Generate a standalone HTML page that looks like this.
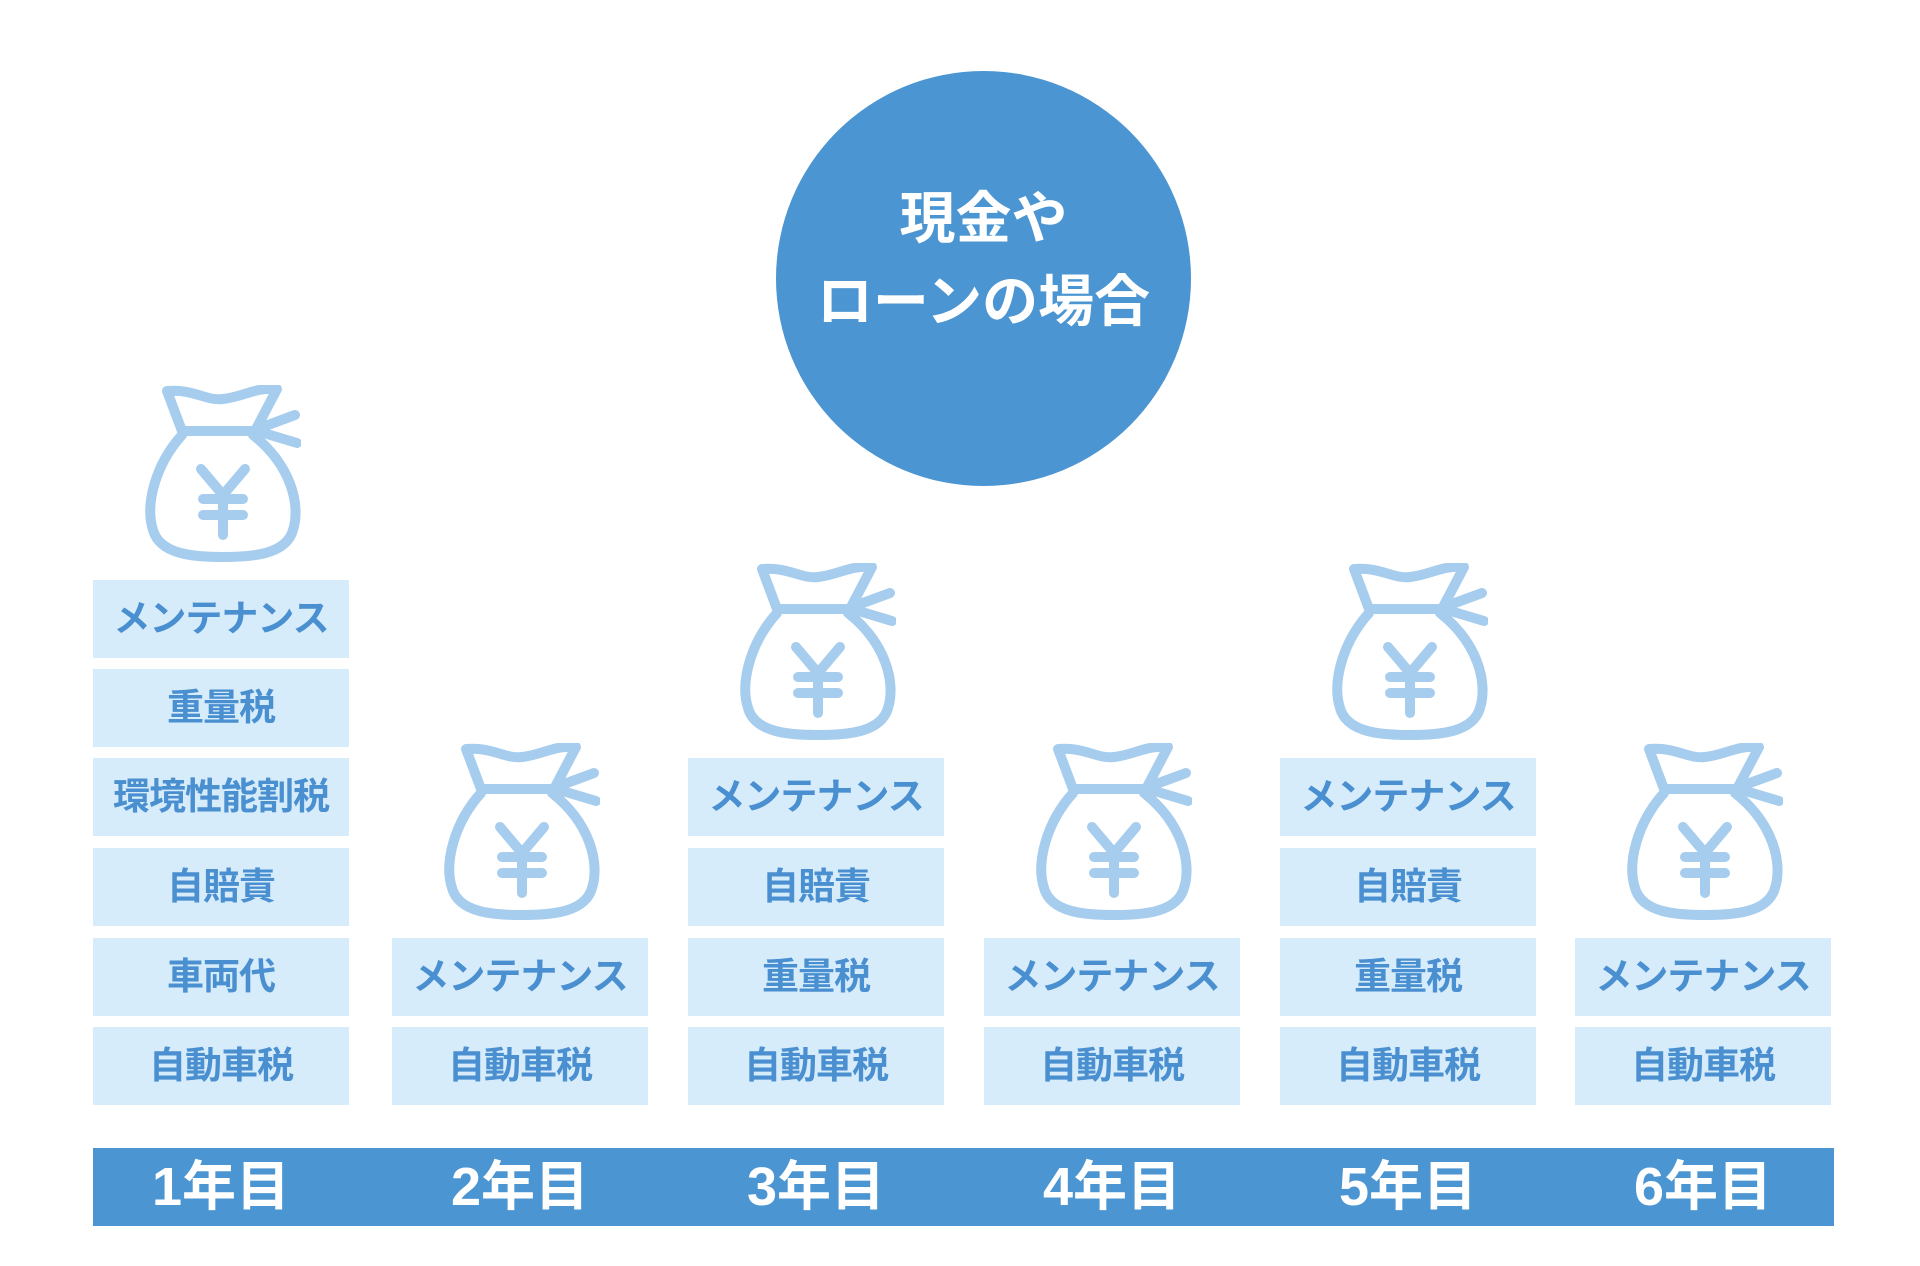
<!DOCTYPE html>
<html><head><meta charset="utf-8"><style>
body{margin:0;width:1920px;height:1266px;background:#fff;position:relative;overflow:hidden;font-family:"Liberation Sans","Noto Sans CJK JP",sans-serif}
.c{position:absolute;left:776px;top:71px;width:415px;height:415px;border-radius:50%;background:#4a95d2;color:#fff;font-weight:bold;font-size:56px;text-align:center}
.c div{position:absolute;left:0;right:0;line-height:60px}
.b{position:absolute;width:256px;height:78px;background:#d6ecfb;color:#4a8fd0;font-weight:bold;font-size:37px;line-height:78px;text-align:center;letter-spacing:-1px}
.bar{position:absolute;left:93px;top:1148px;width:1741px;height:78px;background:#4a95d2}
.y{position:absolute;top:1148px;width:256px;line-height:78px;color:#fff;font-weight:bold;font-size:54px;text-align:center}
svg{position:absolute}
</style></head><body>
<div class="c"><div style="top:118px">現金や</div><div style="top:201px">ローンの場合</div></div>
<svg width="0" height="0"><defs><g id="bag" fill="none" stroke="#a7cdee" stroke-width="10" stroke-linecap="round" stroke-linejoin="round">
<path d="M22,6 C50,4 60,16 78,14 C98,12 110,2 132,4 L110,46 L37,46 Z"/>
<path d="M112,44 L150,30 M112,46 L152,58"/>
<path d="M37,50 C10,80 0,120 8,145 C15,170 50,172 78,172 C106,172 141,170 148,145 C156,120 146,80 108,50"/>
<path d="M56,84 L78,110 L100,84 M78,110 L78,150 M58,114 L98,114 M58,130 L98,130"/>
</g></defs></svg>
<svg style="left:145px;top:385px" width="156" height="177"><use href="#bag"/></svg>
<div class="b" style="left:93px;top:580px">メンテナンス</div>
<div class="b" style="left:93px;top:669px">重量税</div>
<div class="b" style="left:93px;top:758px">環境性能割税</div>
<div class="b" style="left:93px;top:848px">自賠責</div>
<div class="b" style="left:93px;top:938px">車両代</div>
<div class="b" style="left:93px;top:1027px">自動車税</div>
<svg style="left:444px;top:743px" width="156" height="177"><use href="#bag"/></svg>
<div class="b" style="left:392px;top:938px">メンテナンス</div>
<div class="b" style="left:392px;top:1027px">自動車税</div>
<svg style="left:740px;top:563px" width="156" height="177"><use href="#bag"/></svg>
<div class="b" style="left:688px;top:758px">メンテナンス</div>
<div class="b" style="left:688px;top:848px">自賠責</div>
<div class="b" style="left:688px;top:938px">重量税</div>
<div class="b" style="left:688px;top:1027px">自動車税</div>
<svg style="left:1036px;top:743px" width="156" height="177"><use href="#bag"/></svg>
<div class="b" style="left:984px;top:938px">メンテナンス</div>
<div class="b" style="left:984px;top:1027px">自動車税</div>
<svg style="left:1332px;top:563px" width="156" height="177"><use href="#bag"/></svg>
<div class="b" style="left:1280px;top:758px">メンテナンス</div>
<div class="b" style="left:1280px;top:848px">自賠責</div>
<div class="b" style="left:1280px;top:938px">重量税</div>
<div class="b" style="left:1280px;top:1027px">自動車税</div>
<svg style="left:1627px;top:743px" width="156" height="177"><use href="#bag"/></svg>
<div class="b" style="left:1575px;top:938px">メンテナンス</div>
<div class="b" style="left:1575px;top:1027px">自動車税</div>
<div class="bar"></div>
<div class="y" style="left:93px">1年目</div>
<div class="y" style="left:392px">2年目</div>
<div class="y" style="left:688px">3年目</div>
<div class="y" style="left:984px">4年目</div>
<div class="y" style="left:1280px">5年目</div>
<div class="y" style="left:1575px">6年目</div>
</body></html>
